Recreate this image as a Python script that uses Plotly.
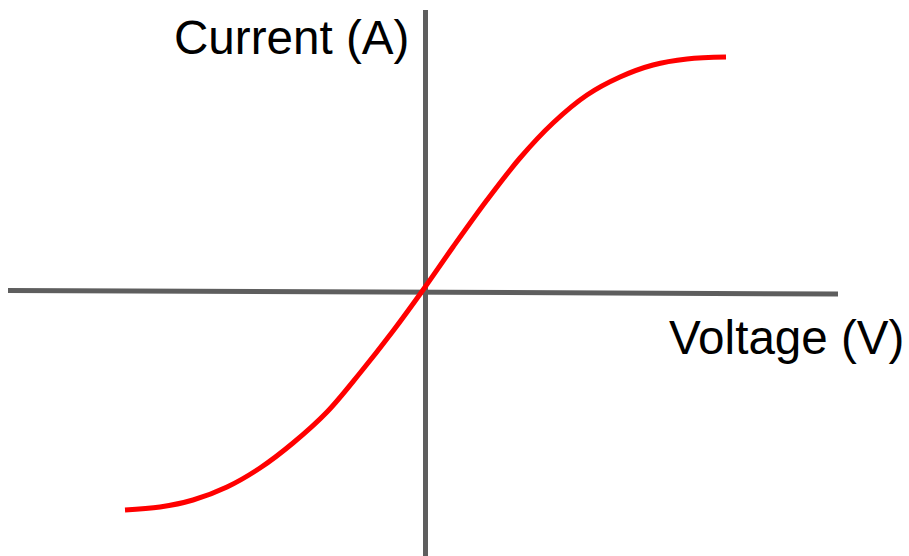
import plotly.graph_objects as go

# I-V curve (arbitrary units, origin at the axis crossing)
voltage = [-3.00, -2.65, -2.32, -1.98, -1.65, -1.32, -0.98, -0.65, -0.32, -0.02,
           0.28, 0.62, 0.95, 1.28, 1.62, 1.95, 2.28, 2.62, 3.01]
current = [-2.18, -2.15, -2.08, -1.95, -1.76, -1.51, -1.20, -0.81, -0.39, 0.02,
           0.45, 0.92, 1.34, 1.69, 1.97, 2.15, 2.27, 2.33, 2.35]

# hand-drawn axis lines (the horizontal one is slightly tilted in the original)
h_axis_x = [-4.17, 4.13]
h_axis_y = [0.015, -0.02]
v_axis_x = [0.005, 0.005]
v_axis_y = [2.82, -2.66]

x_label = "Voltage (V)"
y_label = "Current (A)"

W, H = 909, 556
AXIS_GRAY = "#5e5e5e"
FONT = "Liberation Sans, Arial, sans-serif"

fig = go.Figure()

fig.add_trace(go.Scatter(x=h_axis_x, y=h_axis_y, mode="lines",
                         line=dict(color=AXIS_GRAY, width=5), hoverinfo="skip"))
fig.add_trace(go.Scatter(x=v_axis_x, y=v_axis_y, mode="lines",
                         line=dict(color=AXIS_GRAY, width=5), hoverinfo="skip"))
fig.add_trace(go.Scatter(x=voltage, y=current, mode="lines",
                         line=dict(color="#ff0000", width=5, shape="spline"),
                         name="I-V"))

# labels placed in paper coords (pixel fractions, margins are zero)
fig.add_annotation(text=y_label, xref="paper", yref="paper",
                   x=172 / W, y=1 - 66 / H, xanchor="left", yanchor="bottom",
                   showarrow=False, font=dict(family=FONT, size=47.6, color="black"))
fig.add_annotation(text=x_label, xref="paper", yref="paper",
                   x=667 / W, y=1 - 366 / H, xanchor="left", yanchor="bottom",
                   showarrow=False, font=dict(family=FONT, size=47.6, color="black"))

fig.update_xaxes(range=[-4.25, 4.84], visible=False, fixedrange=True)
fig.update_yaxes(range=[-2.64, 2.92], visible=False, fixedrange=True)

fig.update_layout(
    width=W, height=H,
    margin=dict(l=0, r=0, t=0, b=0),
    paper_bgcolor="white", plot_bgcolor="white",
    showlegend=False,
)

# drop the browser's default 8px body margin so the figure sits at 0,0
fig.write_html("out.html",
               config={"displayModeBar": False},
               post_script="document.body.style.margin='0';document.body.style.overflow='hidden';")
